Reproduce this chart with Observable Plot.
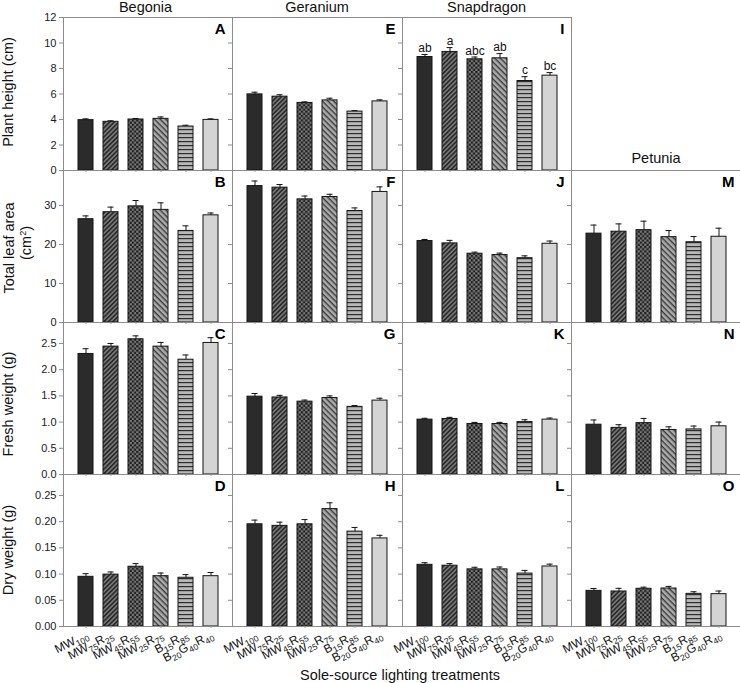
<!DOCTYPE html>
<html><head><meta charset="utf-8">
<script src="https://cdn.jsdelivr.net/npm/d3@7"></script>
<script src="https://cdn.jsdelivr.net/npm/@observablehq/plot@0.6"></script>
<style>
body{margin:0;background:#fff;font-family:"Liberation Sans",Arial,sans-serif;}
#root{position:relative;width:740px;height:683px;overflow:hidden;background:#fff;}
.panel{position:absolute;}
.panel svg{max-width:none !important;}
.lbl{position:absolute;font-size:14.5px;line-height:1;color:#111;white-space:nowrap;}
.rot{transform:translate(-50%,-50%) rotate(-90deg);text-align:center;}
</style></head><body>
<svg width="0" height="0" style="position:absolute">
<defs>
<pattern id="pat2" width="3.2" height="3.2" patternUnits="userSpaceOnUse" patternTransform="rotate(-45)">
<rect width="3.2" height="3.2" fill="#777"/><rect width="3.2" height="1.5" fill="#262626"/>
</pattern>
<pattern id="pat3" width="4.4" height="4.4" patternUnits="userSpaceOnUse">
<rect width="4.4" height="4.4" fill="#7a7a7a"/><rect width="2.2" height="2.2" fill="#1e1e1e"/><rect x="2.2" y="2.2" width="2.2" height="2.2" fill="#1e1e1e"/>
</pattern>
<pattern id="pat4" width="4" height="4" patternUnits="userSpaceOnUse" patternTransform="rotate(45)">
<rect width="4" height="4" fill="#ababab"/><rect width="4" height="1.4" fill="#3a3a3a"/>
</pattern>
<pattern id="pat5" width="4" height="4" patternUnits="userSpaceOnUse">
<rect width="4" height="4" fill="#b8b8b8"/><rect width="4" height="1.2" fill="#2e2e2e"/>
</pattern>
</defs>
</svg>
<div id="root"></div>
<script>
const species = ["Begonia", "Geranium", "Snapdragon", "Petunia"];
const treatments = ["MW100", "MW75R25", "MW45R55", "MW25R75", "B15R85", "B20G40R40"];
const measureTitles = ["Plant height (cm)", "Total leaf area", "Fresh weight (g)", "Dry weight (g)"];
const panelLetters = [["A", "E", "I", null], ["B", "F", "J", "M"], ["C", "G", "K", "N"], ["D", "H", "L", "O"]];

// means and standard errors, one inner list per species (Begonia, Geranium, Snapdragon, Petunia)
const plantHeightMean = [
  [3.95, 3.82, 4.0, 4.05, 3.45, 3.97],
  [5.97, 5.79, 5.3, 5.5, 4.62, 5.42],
  [8.9, 9.3, 8.72, 8.8, 7.02, 7.44]
];
const plantHeightErr = [
  [0.1, 0.08, 0.08, 0.15, 0.1, 0.08],
  [0.17, 0.15, 0.08, 0.17, 0.08, 0.12],
  [0.2, 0.34, 0.18, 0.37, 0.34, 0.24]
];
const snapdragonHeightLetters = ["ab", "a", "abc", "ab", "c", "bc"];
const leafAreaMean = [
  [26.5, 28.3, 29.8, 28.9, 23.5, 27.5],
  [35.0, 34.6, 31.6, 32.2, 28.6, 33.5],
  [20.9, 20.3, 17.65, 17.3, 16.5, 20.2],
  [22.8, 23.3, 23.7, 21.9, 20.6, 22.0]
];
const leafAreaErr = [
  [0.85, 1.3, 1.5, 1.8, 1.3, 0.6],
  [1.3, 0.8, 0.85, 0.7, 0.8, 1.3],
  [0.4, 0.77, 0.4, 0.5, 0.6, 0.7],
  [2.2, 2.0, 2.3, 1.7, 1.45, 2.2]
];
const freshWeightMean = [
  [2.30, 2.44, 2.58, 2.44, 2.19, 2.51],
  [1.485, 1.47, 1.39, 1.46, 1.29, 1.41],
  [1.047, 1.06, 0.964, 0.964, 1.0, 1.047],
  [0.95, 0.89, 0.98, 0.85, 0.86, 0.92]
];
const freshWeightErr = [
  [0.1, 0.06, 0.065, 0.08, 0.09, 0.1],
  [0.06, 0.04, 0.03, 0.04, 0.025, 0.045],
  [0.025, 0.03, 0.03, 0.03, 0.045, 0.03],
  [0.09, 0.06, 0.09, 0.06, 0.065, 0.08]
];
const dryWeightMean = [
  [0.0948, 0.099, 0.114, 0.096, 0.093, 0.096],
  [0.195, 0.192, 0.195, 0.224, 0.181, 0.168],
  [0.1177, 0.116, 0.109, 0.109, 0.101, 0.1145],
  [0.068, 0.0668, 0.072, 0.0725, 0.0623, 0.0617]
];
const dryWeightErr = [
  [0.006, 0.005, 0.006, 0.006, 0.006, 0.007],
  [0.008, 0.007, 0.009, 0.012, 0.008, 0.006],
  [0.004, 0.004, 0.004, 0.0045, 0.006, 0.0045],
  [0.0045, 0.006, 0.003, 0.004, 0.004, 0.006]
];

// axis settings per row
const yMax = [12, 39, 2.9, 0.29];
const yTicks = [[0, 2, 4, 6, 8, 10, 12], [0, 10, 20, 30], [0, 0.5, 1.0, 1.5, 2.0, 2.5], [0, 0.05, 0.10, 0.15, 0.20, 0.25]];
const yFormats = ["d", "d", ".1f", ".2f"];

// styling
const barFills = ["#2b2b2b", "url(#pat2)", "url(#pat3)", "url(#pat4)", "url(#pat5)", "#d4d4d4"];
const colLeft = [63, 232, 402, 571];
const colWidth = [169, 170, 169, 170];
const rowTop = [17, 170, 322, 474];
const rowHeight = [153, 152, 152, 152];
const ML = 50, MR = 12, MT = 12;
const FONT = '"Liberation Sans", Arial, sans-serif';

const means = [plantHeightMean, leafAreaMean, freshWeightMean, dryWeightMean];
const errs = [plantHeightErr, leafAreaErr, freshWeightErr, dryWeightErr];
const root = document.getElementById("root");

function subscriptLabels(svg) {
  svg.querySelectorAll('g[aria-description="treatment label"] text').forEach(t => {
    const s = t.textContent;
    t.textContent = "";
    let low = false;
    for (const part of s.match(/[A-Za-z]+|\d+/g)) {
      const ts = document.createElementNS("http://www.w3.org/2000/svg", "tspan");
      if (/\d/.test(part)) {
        ts.setAttribute("font-size", "8.5");
        if (!low) ts.setAttribute("dy", "3");
        low = true;
      } else {
        if (low) ts.setAttribute("dy", "-3");
        low = false;
      }
      ts.textContent = part;
      t.appendChild(ts);
    }
  });
}

for (let r = 0; r < 4; r++) {
  for (let c = 0; c < 4; c++) {
    if (!means[r][c]) continue;
    const mb = r === 3 ? 70 : 12;
    const data = treatments.map((t, i) => ({
      treatment: t,
      value: means[r][c][i],
      err: errs[r][c][i],
      fill: barFills[i],
      sig: r === 0 && c === 2 ? snapdragonHeightLetters[i] : null
    }));
    const fmt = d3.format(yFormats[r]);
    const marks = [
      Plot.barY(data, {x: "treatment", y: "value", fill: "fill", stroke: "#151515", strokeWidth: 1}),
      Plot.ruleX(data, {x: "treatment", y1: "value", y2: d => d.value + d.err, stroke: "#151515"}),
      Plot.tickY(data, {x: "treatment", y: d => d.value + d.err, insetLeft: 4.5, insetRight: 4.5, stroke: "#151515"}),
      Plot.frame({stroke: "#8c8c8c"}),
      Plot.axisY({ticks: yTicks[r], tickSize: 4, tickPadding: 3, tickFormat: c === 0 ? fmt : () => "", stroke: "#8c8c8c", fill: "#1a1a1a", fontSize: 11, label: null}),
      Plot.axisX({tickSize: 2, tickFormat: () => "", stroke: "#9a9a9a", label: null}),
      Plot.text([panelLetters[r][c]], {frameAnchor: "top-right", dx: -7, dy: 6, lineAnchor: "top", fontWeight: "bold", fontSize: 15, fill: "#000", text: d => d})
    ];
    if (r === 0 && c === 2) {
      marks.push(Plot.text(data, {x: "treatment", y: d => d.value + d.err, text: "sig", lineAnchor: "bottom", dy: -2.5, fontSize: 12, fill: "#111"}));
    }
    if (r === 3) {
      marks.push(Plot.text(treatments, {x: d => d, text: d => d, frameAnchor: "bottom", dy: 11, dx: 3, rotate: -27, textAnchor: "end", lineAnchor: "bottom", fontSize: 12, fill: "#111", ariaDescription: "treatment label"}));
    }
    const W = ML + colWidth[c] + MR, H = MT + rowHeight[r] + mb;
    const svg = Plot.plot({
      width: W,
      height: H,
      marginLeft: ML, marginRight: MR, marginTop: MT, marginBottom: mb,
      style: {background: "transparent", overflow: "visible", fontFamily: FONT, fontSize: "11px", color: "#1a1a1a", maxWidth: "none"},
      x: {domain: treatments, paddingInner: 0.42, paddingOuter: 0.5, label: null},
      y: {domain: [0, yMax[r]], label: null},
      color: {type: "identity"},
      marks
    });
    if (r === 3) subscriptLabels(svg);
    const div = document.createElement("div");
    div.className = "panel";
    div.style.left = (colLeft[c] - ML) + "px";
    div.style.top = (rowTop[r] - MT) + "px";
    div.style.width = W + "px";
    div.style.height = H + "px";
    div.appendChild(svg);
    root.appendChild(div);
  }
}

function addLabel(text, x, y, rotate, extraHTML) {
  const d = document.createElement("div");
  d.className = "lbl" + (rotate ? " rot" : "");
  d.style.left = x + "px";
  d.style.top = y + "px";
  if (!rotate) d.style.transform = "translate(-50%, 0)";
  d.textContent = text;
  if (extraHTML) d.innerHTML += extraHTML;
  root.appendChild(d);
}
// column titles
addLabel(species[0], colLeft[0] + colWidth[0] / 2 - 2, 0);
addLabel(species[1], colLeft[1] + colWidth[1] / 2, 0);
addLabel(species[2], colLeft[2] + colWidth[2] / 2, 0);
addLabel(species[3], colLeft[3] + 85, 151);
// y titles
addLabel(measureTitles[0], 8, 92, true);
addLabel(measureTitles[1], 9, 248, true);
addLabel("(cm", 26, 243, true, '<sup style="font-size:9px;vertical-align:5px">2</sup>)');
addLabel(measureTitles[2], 8, 404, true);
addLabel(measureTitles[3], 8, 550, true);
// x title
addLabel("Sole-source lighting treatments", 400, 668);
</script>
</body></html>
